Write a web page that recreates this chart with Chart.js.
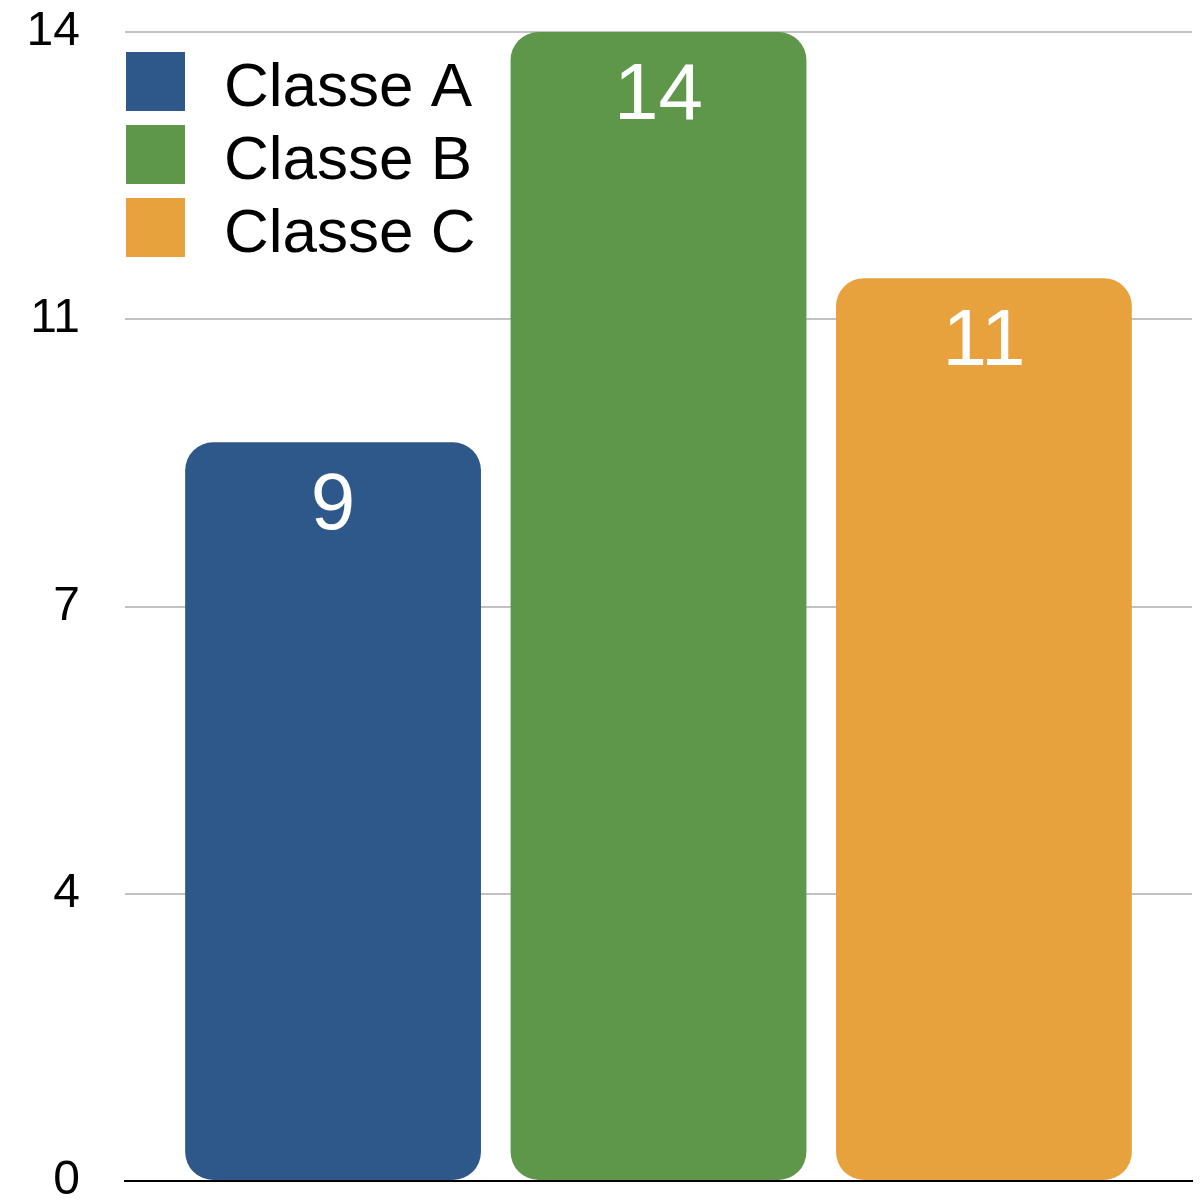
<!DOCTYPE html>
<html>
<head>
<meta charset="utf-8">
<script src="https://cdn.jsdelivr.net/npm/chart.js@4.4.1/dist/chart.umd.min.js"></script>
<style>
    html, body { margin: 0; padding: 0; background: #fff; }
    #wrap { width: 1203px; height: 1201px; }
</style>
</head>
<body>
<div id="wrap"><canvas id="classChart"></canvas></div>
<script>
// Data
const classNames = ['Classe A', 'Classe B', 'Classe C'];
const classValues = [9, 14, 11];
const classColors = ['#2E588A', '#5E964A', '#E7A23E'];
const tickValues = [0, 3.5, 7, 10.5, 14];
const tickLabels = ['0', '4', '7', '11', '14'];

const FONT = "'Liberation Sans', Arial, Helvetica, sans-serif";

// One dataset per class, all sharing a single category
const datasets = classNames.map((name, i) => ({
    label: name,
    data: [classValues[i]],
    backgroundColor: classColors[i],
    borderRadius: 28,
    borderSkipped: false,
    barPercentage: 0.909,
    categoryPercentage: 0.915
}));

// Value printed inside the top of each bar
const valueLabels = {
    id: 'valueLabels',
    afterDatasetsDraw(chart) {
        const ctx = chart.ctx;
        ctx.save();
        ctx.fillStyle = '#fff';
        ctx.font = `80px ${FONT}`;
        ctx.textAlign = 'center';
        ctx.textBaseline = 'alphabetic';
        chart.data.datasets.forEach((ds, i) => {
            const bar = chart.getDatasetMeta(i).data[0];
            ctx.fillText(String(ds.data[0]), bar.x, bar.y + 87);
        });
        ctx.restore();
    }
};

// Legend drawn inside the plot, top left
const innerLegend = {
    id: 'innerLegend',
    afterDraw(chart) {
        const ctx = chart.ctx;
        const left = chart.chartArea.left + 1;
        const top = chart.chartArea.top + 20;
        ctx.save();
        ctx.font = `62px ${FONT}`;
        ctx.textAlign = 'left';
        ctx.textBaseline = 'alphabetic';
        chart.data.datasets.forEach((ds, i) => {
            const y = top + i * 73;
            ctx.fillStyle = ds.backgroundColor;
            ctx.fillRect(left, y, 59, 59);
            ctx.fillStyle = '#000';
            ctx.fillText(ds.label, left + 98, y + 54);
        });
        ctx.restore();
    }
};

new Chart(document.getElementById('classChart').getContext('2d'), {
    type: 'bar',
    data: {
        labels: [''],
        datasets
    },
    options: {
        responsive: true,
        maintainAspectRatio: false,
        animation: false,
        layout: {
            padding: { top: 32, right: 11, bottom: 20, left: 0 }
        },
        plugins: {
            legend: { display: false },
            tooltip: { enabled: false }
        },
        scales: {
            x: {
                grid: { display: false },
                ticks: { display: false },
                border: { display: true, color: '#000', width: 2 },
                afterFit(scale) { scale.height = 0; }
            },
            y: {
                min: 0,
                max: 14,
                afterBuildTicks(scale) {
                    scale.ticks = tickValues.map(v => ({ value: v }));
                },
                ticks: {
                    color: '#000',
                    padding: 0,
                    font: { family: FONT, size: 48, lineHeight: 0.8 },
                    callback: (value) => tickLabels[tickValues.indexOf(value)]
                },
                grid: {
                    color: '#c2c2c2',
                    lineWidth: 2,
                    drawTicks: true,
                    tickLength: 45,
                    tickColor: 'rgba(0,0,0,0)'
                },
                border: { display: false },
                afterFit(scale) { scale.width = 125; }
            }
        }
    },
    plugins: [valueLabels, innerLegend]
});
</script>
</body>
</html>
